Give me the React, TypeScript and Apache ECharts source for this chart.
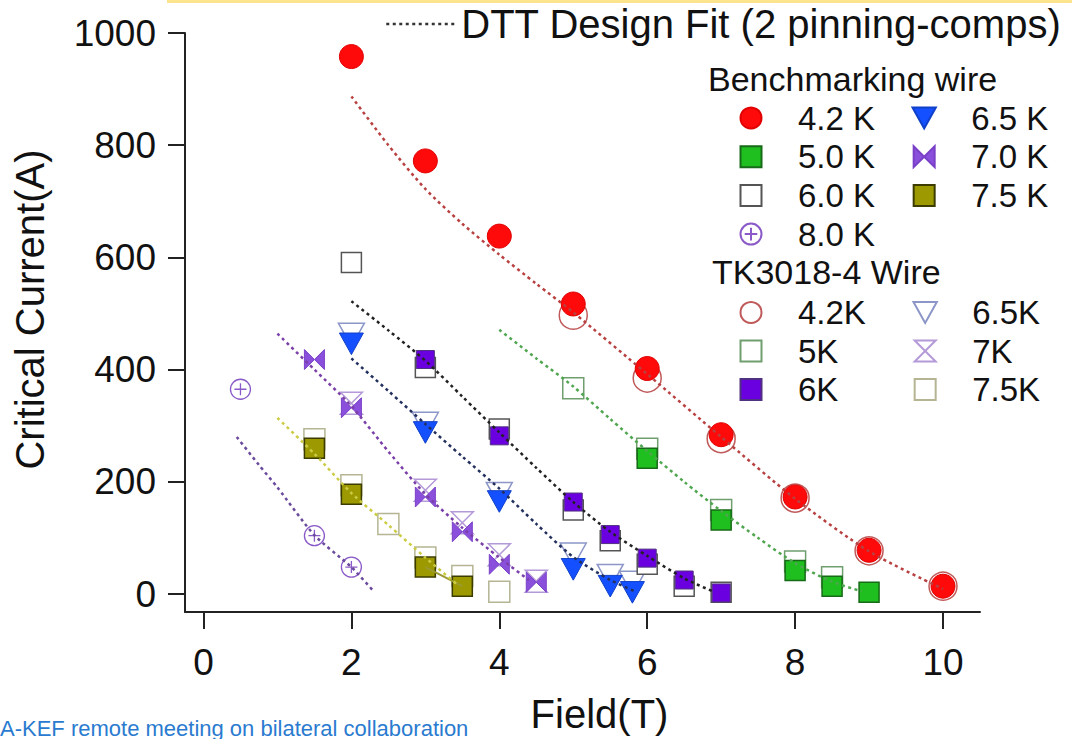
import React, { useEffect, useRef } from 'react';
import * as echarts from 'echarts';

const FONT = '"Liberation Sans", Arial, Helvetica, sans-serif';

// ---- axis ticks ----
const xTicks = [0, 2, 4, 6, 8, 10];
const yTicks = [0, 200, 400, 600, 800, 1000];

// ---- Benchmarking wire (Field T, Ic A) ----
const bench42 = [[2, 958], [3, 772], [4, 638], [5, 517], [6, 402], [7, 284], [8, 173], [9, 78], [10, 14]];
const bench50 = [[6, 242], [7, 132], [8, 42], [8.5, 14], [9, 3]];
const bench60 = [[2, 591], [3, 404], [4, 294], [5, 150], [5.5, 95], [6, 53], [6.5, 14], [7, 3]];
const bench65 = [[2, 446], [3, 288], [4, 165], [5, 44], [5.5, 14], [5.8, 3]];
const bench70 = [[1.5, 418], [2, 332], [3, 173], [3.5, 111], [4, 53], [4.5, 21]];
const bench75 = [[1.5, 260], [2, 178], [3, 48], [3.5, 14]];
const bench80 = [[0.5, 365], [1.5, 104], [2, 48]];

// ---- TK3018-4 wire ----
const tk42 = [[5, 497], [6, 385], [7, 277], [8, 171], [9, 77], [10, 14]];
const tk5 = [[5, 367], [6, 259], [7, 150], [8, 58], [8.5, 30]];
const tk6 = [[3, 418], [4, 282], [5, 164], [5.5, 106], [6, 64], [6.5, 25], [7, 2]];
const tk65 = [[2, 462], [3, 303], [4, 178], [5, 70], [5.5, 32], [5.8, 20]];
const tk7 = [[2, 340], [3, 185], [3.5, 127], [4, 70], [4.5, 23]];
const tk75 = [[1.5, 276], [2, 194], [2.5, 125], [3, 65], [3.5, 32], [4, 4]];

// ---- DTT design fits ----
const fit42 = [[2, 887], [2.5, 800], [3, 722], [3.5, 660], [4, 605], [4.5, 553], [5, 502], [6, 392], [7, 280], [8, 170], [9, 76], [10, 9]];
const fit50 = [[4, 471], [4.5, 420], [5, 370], [5.5, 312], [6, 255], [6.5, 200], [7, 148], [7.5, 100], [8, 55], [8.5, 22], [8.9, 5]];
const fit60 = [[2, 522], [2.5, 470], [3, 416], [3.5, 352], [4, 288], [4.5, 225], [5, 164], [5.5, 111], [6, 68], [6.5, 28], [6.9, 4]];
const fit65 = [[2, 420], [2.5, 362], [3, 303], [3.5, 245], [4, 188], [4.5, 125], [5, 66], [5.5, 25], [5.85, 4]];
const fit70 = [[1, 464], [1.5, 400], [2, 335], [2.5, 254], [3, 178], [3.5, 118], [4, 65], [4.4, 25]];
const fit75 = [[1, 314], [1.5, 250], [2, 180], [2.5, 123], [3, 65], [3.45, 15]];
const fit80 = [[0.45, 280], [0.75, 230], [1, 190], [1.5, 105], [2, 48], [2.3, 5]];
const link75 = [[3, 48], [3.5, 14]];

const FIT_LABEL = 'DTT Design Fit (2 pinning-comps)';
const benchCol1 = ['4.2 K', '5.0 K', '6.0 K', '8.0 K'];
const benchCol2 = ['6.5 K', '7.0 K', '7.5 K'];
const tkCol1 = ['4.2K', '5K', '6K'];
const tkCol2 = ['6.5K', '7K', '7.5K'];

const SQUARE = 'path://M0,0 L20,0 L20,20 L0,20 Z';
const DOWN_TRI = 'path://M0,0 L20,0 L10,18 Z';
const BOWTIE = 'path://M0,0 L10,10 L0,20 Z M20,0 L10,10 L20,20 Z';
const HOURGLASS = 'path://M0,0 L20,0 L0,20 L20,20 Z';
const CIRCLE_PLUS = 'path://M0,10 A10,10 0 1 1 20,10 A10,10 0 1 1 0,10 Z M10,4 L10,16 M4,10 L16,10';

function scatter(name: string, data: number[][], symbol: string, size: number, fill: string, stroke: string, bw: number, z: number) {
  return {
    type: 'scatter',
    name,
    data,
    symbol,
    symbolSize: size,
    symbolKeepAspect: true,
    itemStyle: { color: fill, borderColor: stroke, borderWidth: bw, opacity: 1 },
    z,
    silent: true,
  };
}

function fit(name: string, data: number[][], color: string) {
  return {
    type: 'line',
    name,
    data,
    smooth: 0.25,
    symbol: 'none',
    lineStyle: { color, width: 2.5, type: [3, 3.5] },
    z: 5,
    silent: true,
  };
}

// iconCenter: x of the legend symbol centre; the item box is 84 wide, the symbol 21 wide
function legendCol(data: string[], iconCenter: number, top: number, gap: number) {
  return {
    orient: 'vertical',
    left: iconCenter - 10.5,
    top,
    padding: 0,
    itemGap: gap,
    itemWidth: 84,
    itemHeight: 21,
    selectedMode: false,
    data,
    textStyle: { fontSize: 33, fontFamily: FONT, color: '#111' },
  };
}

export default function App() {
  const ref = useRef<HTMLDivElement>(null);

  useEffect(() => {
    if (!ref.current) return;
    const chart = echarts.init(ref.current, undefined, { renderer: 'svg' });

    const option = {
      animation: false,
      backgroundColor: '#ffffff',
      textStyle: { fontFamily: FONT },
      grid: { left: 185, top: 33, right: 92, bottom: 121, containLabel: false },
      xAxis: {
        type: 'value',
        min: -0.25,
        max: 10.5,
        name: 'Field(T)',
        nameLocation: 'middle',
        nameGap: 82,
        nameTextStyle: { fontSize: 40, color: '#111', fontFamily: FONT, padding: [0, 0, 0, 34] },
        axisLine: { onZero: false, lineStyle: { color: '#222', width: 2 } },
        axisTick: { customValues: xTicks, length: 17, lineStyle: { color: '#222', width: 2 } },
        axisLabel: { customValues: xTicks, fontSize: 37, color: '#111', margin: 32, fontFamily: FONT, formatter: (v: number) => String(v) },
        splitLine: { show: false },
      },
      yAxis: {
        type: 'value',
        min: -32,
        max: 1000,
        name: 'Critical Current(A)',
        nameLocation: 'middle',
        nameGap: 135,
        nameTextStyle: { fontSize: 40, color: '#111', fontFamily: FONT, padding: [0, 0, 0, 26] },
        axisLine: { onZero: false, lineStyle: { color: '#222', width: 2 } },
        axisTick: { customValues: yTicks, length: 17, lineStyle: { color: '#222', width: 2 } },
        axisLabel: { customValues: yTicks, fontSize: 37, color: '#111', margin: 29, fontFamily: FONT, formatter: (v: number) => String(v) },
        splitLine: { show: false },
      },
      legend: [
        {
          left: 385,
          top: 4,
          padding: 0,
          itemWidth: 70,
          itemHeight: 14,
          selectedMode: false,
          data: [FIT_LABEL],
          itemStyle: { opacity: 0 },
          lineStyle: { width: 2.5, color: '#333' },
          textStyle: { fontSize: 40, fontFamily: FONT, color: '#111' },
        },
        legendCol(benchCol1, 750, 101.5, 5.7),
        legendCol(benchCol2, 922, 101.5, 5.7),
        legendCol(tkCol1, 750, 296, 5.5),
        legendCol(tkCol2, 923, 296, 5.5),
      ],
      graphic: [
        { type: 'rect', shape: { x: 167, y: 0, width: 905, height: 3 }, style: { fill: '#fce48c' } },
        {
          type: 'text', x: 708, y: 79,
          style: { text: 'Benchmarking wire', fill: '#111', font: `34px ${FONT}`, textAlign: 'left', textVerticalAlign: 'middle' },
        },
        {
          type: 'text', x: 712, y: 272,
          style: { text: 'TK3018-4 Wire', fill: '#111', font: `34px ${FONT}`, textAlign: 'left', textVerticalAlign: 'middle' },
        },
        {
          type: 'text', x: 0, y: 739,
          style: { text: 'A-KEF remote meeting on bilateral collaboration', fill: '#2a7bd0', font: `22px ${FONT}`, textAlign: 'left', textVerticalAlign: 'bottom' },
        },
      ],
      series: [
        {
          type: 'line', name: FIT_LABEL, data: [], symbol: 'none', showSymbol: false,
          itemStyle: { color: 'rgba(0,0,0,0)', borderWidth: 0 },
          lineStyle: { color: '#333', width: 2.5, type: [3, 3.5] },
        },
        // open TK markers (underneath)
        scatter('4.2K', tk42, 'circle', 28, '#ffffff', '#c05a5a', 1.5, 2),
        scatter('5K', tk5, SQUARE, 21, '#ffffff', '#6f9f6f', 1.5, 2),
        scatter('6.5K', tk65, DOWN_TRI, 26, '#ffffff', '#8c96c8', 1.5, 2),
        scatter('7K', tk7, HOURGLASS, 22, '#ffffff', '#b49ad8', 1.5, 2),
        scatter('7.5K', tk75, SQUARE, 21, '#ffffff', '#b5b594', 1.5, 2),
        scatter('6.0 K', bench60, SQUARE, 20, '#ffffff', '#555555', 1.5, 2),
        // filled markers
        scatter('4.2 K', bench42, 'circle', 24, '#ff0a0a', '#e00000', 1, 3),
        scatter('5.0 K', bench50, SQUARE, 20, '#1fbf1f', '#176a17', 1.5, 3),
        scatter('6.5 K', bench65, DOWN_TRI, 24, '#1450ff', '#1040c8', 1, 3),
        scatter('7.0 K', bench70, BOWTIE, 20, '#8a50dc', '#7a40c8', 1, 3),
        scatter('7.5 K', bench75, SQUARE, 20, '#9c9a00', '#3c3c00', 1.5, 3),
        scatter('8.0 K', bench80, CIRCLE_PLUS, 20, 'rgba(255,255,255,0)', '#8a5ac8', 1.3, 3),
        scatter('6K', tk6, SQUARE, 18, '#6a00e0', '#503080', 1, 3),
        // fits
        fit('fit 4.2 K', fit42, '#b84040'),
        fit('fit 5.0 K', fit50, '#4fa64f'),
        fit('fit 6.0 K', fit60, '#222222'),
        fit('fit 6.5 K', fit65, '#23305e'),
        fit('fit 7.0 K', fit70, '#7a3fa8'),
        fit('fit 7.5 K', fit75, '#cccc44'),
        fit('fit 8.0 K', fit80, '#6a4a9c'),
        {
          type: 'line', name: 'link 7.5 K', data: link75, symbol: 'none', z: 4, silent: true,
          lineStyle: { color: '#9c9a30', width: 2, type: 'solid' },
        },
      ],
    };

    chart.setOption(option as any);
    return () => chart.dispose();
  }, []);

  return (
    <div
      ref={ref}
      style={{ position: 'absolute', left: 0, top: 0, width: 1072, height: 739, background: '#fff' }}
    />
  );
}
